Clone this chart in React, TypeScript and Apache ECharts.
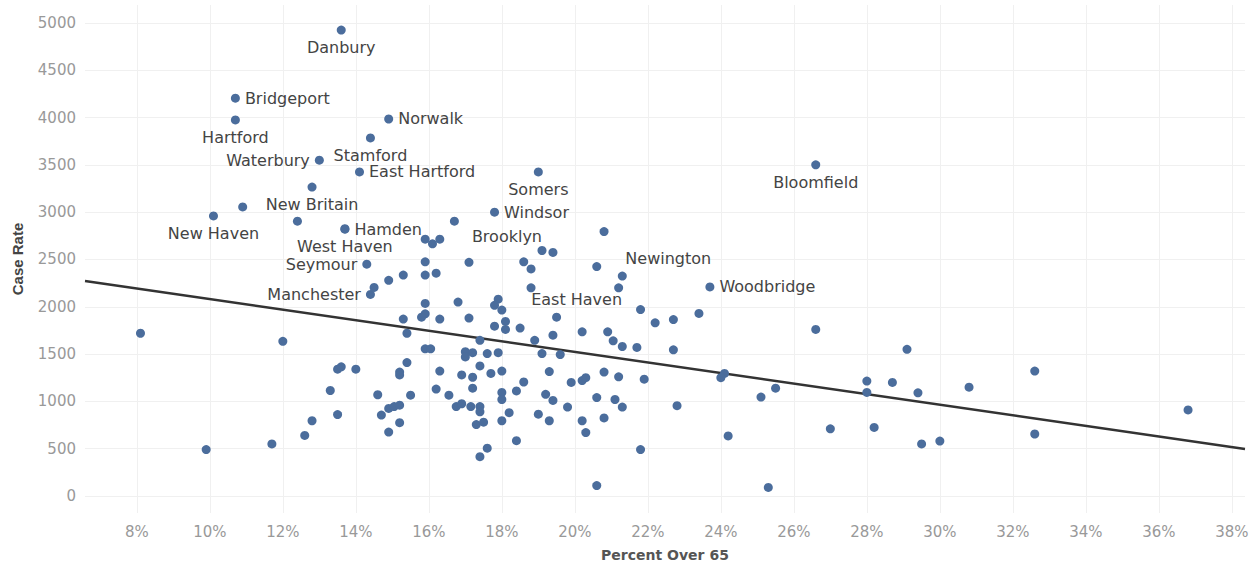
import { useRef, useEffect } from 'react';
import * as echarts from 'echarts';

// labelled towns first, then the unlabelled ones
const pctOver65 = [
    13.6, 10.7, 10.7, 14.9, 14.4, 13.0, 14.1, 12.8, 10.1, 13.7, 13.7, 14.3, 14.4, 19.0, 17.8, 16.7, 19.5, 21.3, 23.7, 26.6,
    10.9, 12.4, 15.9, 16.1, 16.3, 20.8, 15.9, 17.1, 15.3, 14.9, 15.9, 16.2, 18.6, 18.8, 19.1, 19.4, 20.6, 14.5, 18.8, 21.2,
    15.9, 15.9, 15.8, 15.3, 16.3, 16.8, 17.9, 17.8, 18.0, 17.1, 18.1, 17.8, 18.1, 18.5, 20.2, 19.4, 20.9, 21.05, 21.3, 21.7,
    17.4, 18.9, 17.0, 17.2, 17.0, 17.6, 17.9, 19.1, 19.6, 21.8, 22.2, 22.7, 23.4, 26.6, 22.7, 15.4, 15.9, 16.05, 8.1, 12.0,
    13.5, 13.6, 14.0, 13.3, 14.6, 15.2, 15.2, 13.5, 12.8, 14.7, 14.9, 15.05, 15.2, 15.2, 14.9, 12.6, 11.7, 9.9, 15.4, 16.3,
    16.2, 15.5, 16.55, 16.9, 17.2, 17.4, 17.7, 18.0, 19.3, 18.6, 19.9, 20.2, 20.3, 20.8, 21.2, 17.2, 18.0, 18.0, 18.4, 19.2,
    19.4, 20.6, 21.1, 16.75, 16.9, 17.15, 17.4, 17.4, 18.2, 19.0, 19.8, 21.3, 17.3, 17.5, 18.0, 19.3, 20.2, 20.8, 20.3, 18.4,
    17.6, 17.4, 20.6, 21.8, 21.9, 24.1, 24.0, 25.5, 25.1, 22.8, 27.0, 24.2, 25.3, 29.1, 32.6, 28.0, 28.0, 28.7, 29.4, 30.8,
    28.2, 29.5, 30.0, 32.6, 36.8
];

const caseRate = [
    4925, 4205, 3975, 3985, 3785, 3550, 3425, 3265, 2960, 2820, 2825, 2450, 2130, 3425, 3000, 2905, 1890, 2325, 2210, 3500,
    3055, 2905, 2715, 2665, 2715, 2795, 2475, 2470, 2335, 2280, 2335, 2355, 2475, 2400, 2595, 2575, 2425, 2205, 2200, 2200,
    2035, 1925, 1890, 1870, 1870, 2050, 2080, 2015, 1965, 1880, 1845, 1795, 1760, 1775, 1735, 1700, 1735, 1640, 1580, 1570,
    1645, 1645, 1525, 1515, 1470, 1505, 1515, 1505, 1495, 1970, 1830, 1865, 1930, 1760, 1545, 1720, 1555, 1555, 1720, 1635,
    1340, 1365, 1340, 1115, 1070, 1310, 1280, 860, 795, 855, 925, 945, 960, 775, 675, 640, 550, 490, 1410, 1320,
    1130, 1065, 1065, 1280, 1255, 1375, 1295, 1320, 1315, 1205, 1200, 1220, 1250, 1310, 1260, 1140, 1095, 1020, 1110, 1075,
    1010, 1040, 1020, 945, 975, 945, 945, 890, 880, 865, 940, 940, 755, 780, 795, 795, 795, 825, 670, 585,
    505, 415, 110, 490, 1235, 1295, 1250, 1140, 1045, 955, 710, 635, 90, 1550, 1320, 1215, 1095, 1200, 1090, 1150,
    725, 550, 580, 655, 910
];

const townNames = [
    'Danbury', 'Bridgeport', 'Hartford', 'Norwalk', 'Stamford', 'Waterbury', 'East Hartford', 'New Britain',
    'New Haven', 'Hamden', 'West Haven', 'Seymour', 'Manchester', 'Somers', 'Windsor', 'Brooklyn',
    'East Haven', 'Newington', 'Woodbridge', 'Bloomfield'
];

// trend line ends: [percent, case rate]
const trendLine = [[6.58, 2273], [38.36, 497]];

const xTicks = [8, 10, 12, 14, 16, 18, 20, 22, 24, 26, 28, 30, 32, 34, 36, 38];
const yTicks = [0, 500, 1000, 1500, 2000, 2500, 3000, 3500, 4000, 4500, 5000];

const FONT = '"DejaVu Sans", Verdana, sans-serif';

const labelPlacement: Record<string, any> = {
    'Danbury': { position: 'bottom' },
    'Bridgeport': { position: 'right' },
    'Hartford': { position: 'bottom' },
    'Norwalk': { position: 'right' },
    'Stamford': { position: 'bottom' },
    'Waterbury': { position: 'left' },
    'East Hartford': { position: 'right' },
    'New Britain': { position: 'bottom' },
    'New Haven': { position: 'bottom' },
    'Hamden': { position: 'right' },
    'West Haven': { position: 'bottom' },
    'Seymour': { position: 'left' },
    'Manchester': { position: 'left' },
    'Somers': { position: 'bottom' },
    'Windsor': { position: 'right' },
    'Brooklyn': { position: 'right', offset: [8, 15] },
    'East Haven': { position: 'top', offset: [20, 0] },
    'Newington': { position: 'top', offset: [46, 0] },
    'Woodbridge': { position: 'right' },
    'Bloomfield': { position: 'bottom' }
};

const App = () => {
    const chartRef = useRef<HTMLDivElement>(null);

    useEffect(() => {
        document.body.style.margin = '0';
        if (!chartRef.current) return;
        const chart = echarts.init(chartRef.current, null, { renderer: 'svg' });

        const points = pctOver65.map((p, i) => {
            const name = townNames[i];
            const item: any = { value: [p, caseRate[i]] };
            if (name) {
                item.name = name;
                item.label = {
                    show: true,
                    formatter: name,
                    distance: 5,
                    ...labelPlacement[name]
                };
            }
            return item;
        });

        const options = {
            animation: false,
            grid: { left: 85, right: 4, top: 5, bottom: 54, outerBoundsMode: 'none' },
            xAxis: {
                type: 'value',
                min: 6.58,
                max: 38.36,
                name: 'Percent Over 65',
                nameLocation: 'middle',
                nameGap: 35,
                nameTextStyle: { color: '#555', fontSize: 14, fontWeight: 'bold', fontFamily: FONT },
                axisLine: { show: false },
                axisTick: { show: false, customValues: xTicks },
                axisLabel: {
                    customValues: xTicks,
                    formatter: (v: number) => v + '%',
                    color: '#999',
                    fontSize: 15,
                    fontFamily: FONT,
                    margin: 11
                },
                splitLine: { show: true, lineStyle: { color: '#f0f0f0', width: 1 } }
            },
            yAxis: {
                type: 'value',
                min: -180,
                max: 5190,
                name: 'Case Rate',
                nameLocation: 'middle',
                nameGap: 60,
                nameRotate: 90,
                nameTextStyle: { color: '#444', fontSize: 15, fontWeight: 'bold', fontFamily: '"Liberation Sans Narrow", "Liberation Sans", sans-serif' },
                axisLine: { show: false },
                axisTick: { show: false, customValues: yTicks },
                axisLabel: {
                    customValues: yTicks,
                    formatter: (v: number) => String(v),
                    color: '#999',
                    fontSize: 15,
                    fontFamily: FONT,
                    margin: 9
                },
                splitLine: { show: true, lineStyle: { color: '#f0f0f0', width: 1 } }
            },
            series: [
                {
                    type: 'line',
                    data: trendLine,
                    symbol: 'none',
                    silent: true,
                    lineStyle: { color: '#333', width: 2.5 },
                    z: 3
                },
                {
                    type: 'scatter',
                    data: points,
                    symbolSize: 9,
                    itemStyle: { color: '#4b6d9c', opacity: 1 },
                    label: {
                        color: '#444',
                        fontSize: 16,
                        fontFamily: FONT
                    },
                    z: 4
                }
            ]
        };

        chart.setOption(options);

        return () => {
            chart.dispose();
        };
    }, []);

    return (
        <div ref={chartRef} style={{ width: 1249, height: 567 }} />
    );
}

export default App;
